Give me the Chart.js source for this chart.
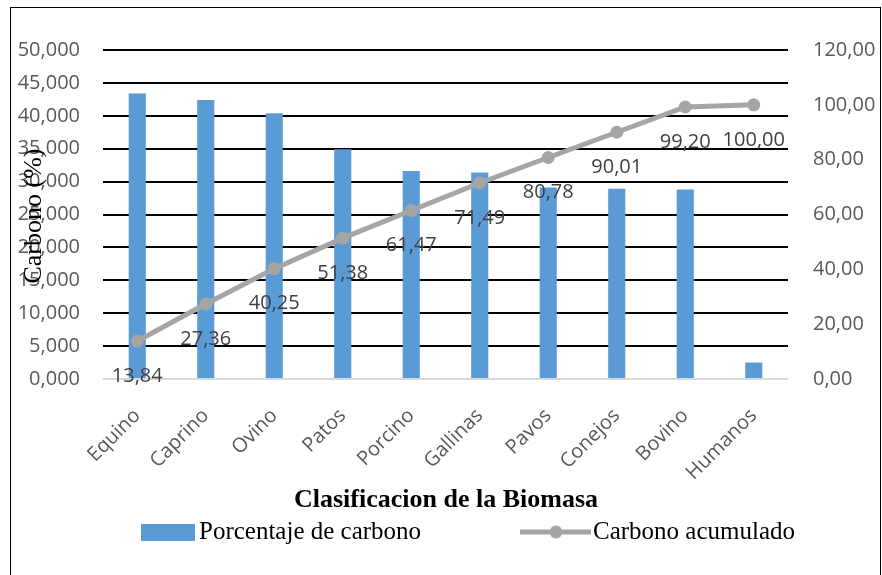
<!DOCTYPE html>
<html>
<head>
<meta charset="utf-8">
<script src="https://cdn.jsdelivr.net/npm/chart.js@4.4.1/dist/chart.umd.min.js"></script>
<style>
  html, body { margin: 0; padding: 0; background: #ffffff; }
  #wrap { position: relative; width: 882px; height: 575px; }
</style>
</head>
<body>
<div id="wrap"><canvas id="c" width="882" height="575"></canvas></div>
<script>
// Biomass categories and their carbon share
const categories = ['Equino', 'Caprino', 'Ovino', 'Patos', 'Porcino', 'Gallinas', 'Pavos', 'Conejos', 'Bovino', 'Humanos'];
const carbonPercent = [43.4, 42.4, 40.4, 34.9, 31.6, 31.4, 29.1, 28.9, 28.8, 2.5];
const cumulativeCarbon = [13.84, 27.36, 40.25, 51.38, 61.47, 71.49, 80.78, 90.01, 99.20, 100.00];

// Axis ranges
const leftAxis = { min: 0, max: 50, step: 5 };
const rightAxis = { min: 0, max: 120, step: 20 };

const seriesNames = ['Porcentaje de carbono', 'Carbono acumulado'];
const xTitle = 'Clasificacion de la Biomasa';
const yTitle = 'Carbono (%)';

const BLUE = '#5B9BD5';
const GREY = '#A5A5A5';
const TICK = '#595959';
const SANS = '"Open Sans", "Liberation Sans", sans-serif';
const SERIF = '"Liberation Serif", "Times New Roman", serif';

const fmt = (v, d) => v.toFixed(d).replace('.', ',');

// Outer frame, axis title, legend and point value labels
const decor = {
  id: 'decor',
  afterDatasetsDraw(chart) {
    const ctx = chart.ctx;
    const meta = chart.getDatasetMeta(1);
    ctx.save();
    ctx.font = '20px ' + SANS;
    ctx.fillStyle = '#404040';
    ctx.textAlign = 'center';
    ctx.textBaseline = 'middle';
    meta.data.forEach((pt, i) => {
      ctx.fillText(fmt(cumulativeCarbon[i], 2), pt.x, pt.y + 35);
    });
    ctx.restore();
  },
  afterDraw(chart) {
    const ctx = chart.ctx;
    ctx.save();
    // frame
    ctx.strokeStyle = '#000';
    ctx.lineWidth = 1;
    ctx.strokeRect(10.5, 7.5, 870, 590);

    // y title
    ctx.save();
    ctx.translate(34, 216);
    ctx.rotate(-Math.PI / 2);
    ctx.font = '26px ' + SERIF;
    ctx.fillStyle = '#000';
    ctx.textAlign = 'center';
    ctx.textBaseline = 'middle';
    ctx.fillText(yTitle, 0, 0);
    ctx.restore();

    // x title
    ctx.font = 'bold 26px ' + SERIF;
    ctx.fillStyle = '#000';
    ctx.textAlign = 'center';
    ctx.textBaseline = 'middle';
    ctx.fillText(xTitle, 446, 500);

    // legend
    const ly = 532;
    ctx.fillStyle = BLUE;
    ctx.fillRect(141, ly - 8, 54, 17);
    ctx.font = '25px ' + SERIF;
    ctx.fillStyle = '#000';
    ctx.textAlign = 'left';
    ctx.fillText(seriesNames[0], 199, ly);

    ctx.strokeStyle = GREY;
    ctx.lineWidth = 5;
    ctx.beginPath();
    ctx.moveTo(520, ly);
    ctx.lineTo(591, ly);
    ctx.stroke();
    ctx.fillStyle = GREY;
    ctx.beginPath();
    ctx.arc(556, ly, 6.5, 0, Math.PI * 2);
    ctx.fill();
    ctx.fillStyle = '#000';
    ctx.fillText(seriesNames[1], 593, ly);
    ctx.restore();
  }
};

new Chart(document.getElementById('c'), {
  data: {
    labels: categories,
    datasets: [
      {
        type: 'bar',
        label: seriesNames[0],
        data: carbonPercent,
        yAxisID: 'y',
        backgroundColor: BLUE,
        barPercentage: 0.25,
        categoryPercentage: 1,
        order: 1
      },
      {
        type: 'line',
        label: seriesNames[1],
        data: cumulativeCarbon,
        yAxisID: 'y1',
        borderColor: GREY,
        backgroundColor: GREY,
        borderWidth: 5,
        pointRadius: 6.5,
        pointBackgroundColor: GREY,
        pointBorderColor: GREY,
        pointBorderWidth: 0,
        tension: 0,
        order: 0
      }
    ]
  },
  options: {
    responsive: false,
    animation: false,
    devicePixelRatio: 1,
    layout: { padding: { top: 50, left: 0, right: 0, bottom: 0 } },
    plugins: { legend: { display: false }, tooltip: { enabled: false } },
    scales: {
      x: {
        offset: true,
        grid: { display: false },
        border: { display: false },
        ticks: {
          color: TICK,
          font: { family: SANS, size: 20 },
          minRotation: 45,
          maxRotation: 45,
          autoSkip: false,
          padding: 17
        },
        afterFit(s) { s.height = 196; }
      },
      y: {
        position: 'left',
        min: leftAxis.min,
        max: leftAxis.max,
        border: { display: false },
        grid: {
          drawTicks: false,
          lineWidth: 2,
          color: c => (c.tick && c.tick.value === 0 ? '#D9D9D9' : '#000000')
        },
        ticks: {
          stepSize: leftAxis.step,
          color: TICK,
          font: { family: SANS, size: 20 },
          padding: 23,
          callback: v => fmt(v, 3)
        },
        afterFit(s) { s.width = 103; }
      },
      y1: {
        position: 'right',
        min: rightAxis.min,
        max: rightAxis.max,
        border: { display: false },
        grid: { display: false, drawTicks: false },
        ticks: {
          stepSize: rightAxis.step,
          color: TICK,
          font: { family: SANS, size: 20 },
          padding: 25,
          callback: v => fmt(v, 2)
        },
        afterFit(s) { s.width = 94; }
      }
    }
  },
  plugins: [decor]
});
</script>
</body>
</html>
